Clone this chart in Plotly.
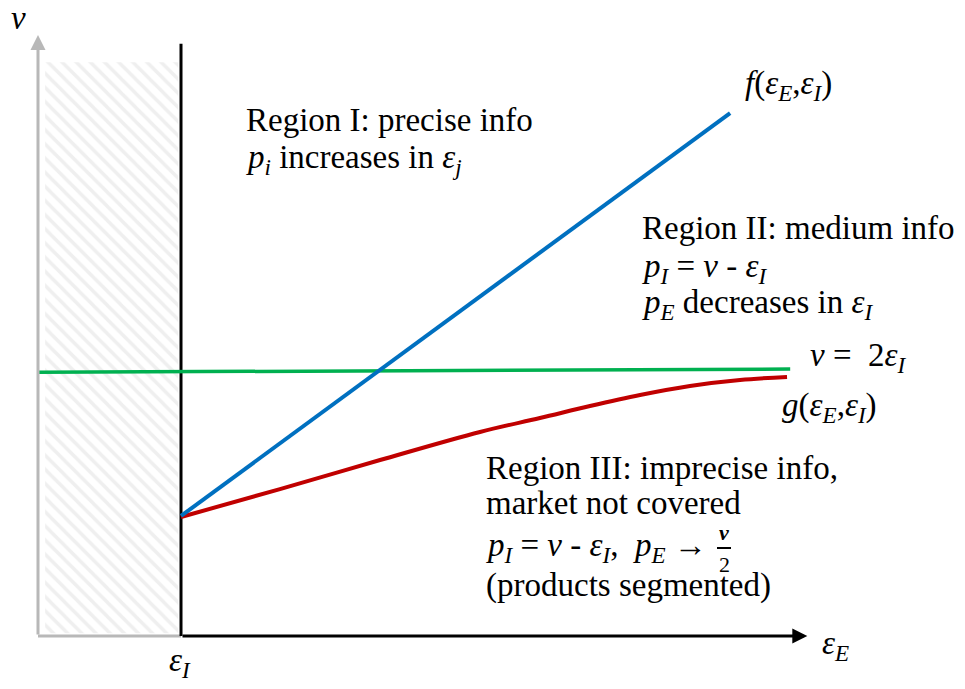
import plotly.graph_objects as go

# ---- data (chart units: x = eps_E in units of eps_I, y = v in units of eps_I) ----
eps_I = 1.0
axis_top = 4.47
x_end = 5.38
hatch_x = [0.05, 0.98]
hatch_y = [0.02, 4.33]

f_x = [1.0, 4.84]
f_y = [0.906, 3.947]

v2_x = [0.0, 5.26]
v2_y = [1.99, 2.015]

g_x = [1.0, 1.692, 2.392, 3.091, 3.510, 3.860, 4.210, 4.559, 4.909, 5.238]
g_y = [0.898, 1.109, 1.328, 1.540, 1.645, 1.736, 1.819, 1.887, 1.932, 1.955]

# pixel mapping helpers for text placement (page pixels)
W, H = 965, 689
OFF = 8  # default page body margin
X0, SX = 38.0, 143.0
Y0, SY = 636.0, 132.5
def X(px):
    return (px - X0) / SX
def Y(py):
    return (Y0 - py) / SY

FONT = "Liberation Serif"
fig = go.Figure()

# hatched infeasible region
fig.add_trace(go.Scatter(
    x=[hatch_x[0], hatch_x[1], hatch_x[1], hatch_x[0], hatch_x[0]],
    y=[hatch_y[0], hatch_y[0], hatch_y[1], hatch_y[1], hatch_y[0]],
    mode="lines", fill="toself", line=dict(width=0),
    fillcolor="rgba(0,0,0,0)",
    fillpattern=dict(shape="\\", fgcolor="#e0e0e0", bgcolor="white", size=10, solidity=0.35),
    hoverinfo="skip", showlegend=False))

# gray bottom axis segment
fig.add_trace(go.Scatter(x=[0, eps_I], y=[0, 0], mode="lines",
                         line=dict(color="#b8b8b8", width=3), showlegend=False, hoverinfo="skip"))
# black vertical line at eps_I
fig.add_trace(go.Scatter(x=[eps_I, eps_I], y=[0, axis_top], mode="lines",
                         line=dict(color="black", width=3), showlegend=False, hoverinfo="skip"))

# curves
fig.add_trace(go.Scatter(x=v2_x, y=v2_y, mode="lines",
                         line=dict(color="#00B050", width=3.5), showlegend=False))
fig.add_trace(go.Scatter(x=g_x, y=g_y, mode="lines", line_shape="spline",
                         line=dict(color="#C00000", width=4), showlegend=False))
fig.add_trace(go.Scatter(x=f_x, y=f_y, mode="lines",
                         line=dict(color="#0070C0", width=4), showlegend=False))

# arrows
fig.add_annotation(x=0, y=Y(35), ax=0, ay=0, xref="x", yref="y", axref="x", ayref="y",
                   showarrow=True, arrowhead=2, arrowsize=1, arrowwidth=3,
                   arrowcolor="#b8b8b8", text="")
fig.add_annotation(x=x_end, y=0, ax=eps_I, ay=0, xref="x", yref="y", axref="x", ayref="y",
                   showarrow=True, arrowhead=2, arrowsize=1, arrowwidth=3,
                   arrowcolor="black", text="")

def txt(px, py, s, size=33, xanchor="left"):
    fig.add_annotation(x=X(px), y=Y(py), xref="x", yref="y", text=s, showarrow=False,
                       xanchor=xanchor, yanchor="middle",
                       font=dict(family=FONT, size=size, color="black"))

txt(9, 18, "<i>v</i>")
txt(180, 662, "<i>ε</i><sub><i>I</i></sub>", xanchor="center")
txt(820, 645, "<i>ε</i><sub><i>E</i></sub>")
txt(743, 85, "<i>f</i>(<i>ε</i><sub><i>E</i></sub>,<i>ε</i><sub><i>I</i></sub>)")
txt(808, 357, "<i>v</i> =  2<i>ε</i><sub><i>I</i></sub>")
txt(780, 407, "<i>g</i>(<i>ε</i><sub><i>E</i></sub>,<i>ε</i><sub><i>I</i></sub>)")

txt(244, 120, "Region I: precise info")
txt(244, 159, "<i>p</i><sub><i>i</i></sub> increases in <i>ε</i><sub><i>j</i></sub>")

txt(640, 228, "Region II: medium info")
txt(640, 268, "<i>p</i><sub><i>I</i></sub> = <i>v</i> - <i>ε</i><sub><i>I</i></sub>")
txt(640, 304, "<i>p</i><sub><i>E</i></sub> decreases in <i>ε</i><sub><i>I</i></sub>")

txt(484, 468, "Region III: imprecise info,")
txt(484, 503, "market not covered")
txt(484, 547, "<i>p</i><sub><i>I</i></sub> = <i>v</i> - <i>ε</i><sub><i>I</i></sub>,  <i>p</i><sub><i>E</i></sub> → ")
txt(724, 532, "<b><i>v</i></b>", size=22, xanchor="center")
txt(724, 564, "2", size=22, xanchor="center")
fig.add_shape(type="line", xref="x", yref="y", x0=X(717), x1=X(731), y0=Y(548), y1=Y(548),
              line=dict(color="black", width=2))
txt(484, 585, "(products segmented)")

fig.update_xaxes(range=[X(OFF), X(W - OFF)], visible=False)
fig.update_yaxes(range=[Y(H - OFF), Y(OFF)], visible=False)
fig.update_layout(width=W - 2 * OFF, height=H - 2 * OFF, margin=dict(l=0, r=0, t=0, b=0),
                  plot_bgcolor="white", paper_bgcolor="white", showlegend=False)

fig.write_html("out.html")
